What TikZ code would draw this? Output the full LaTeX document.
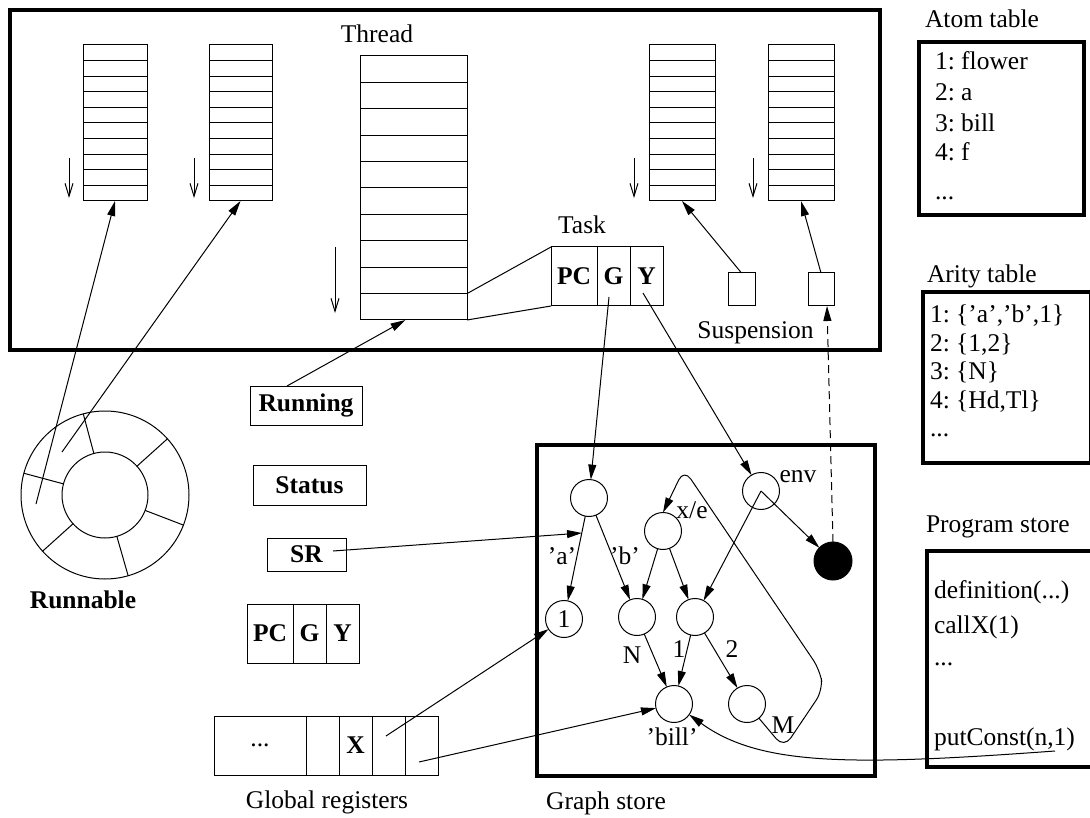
\documentclass[tikz,border=0pt]{standalone}
\usepackage{fontspec}
\setmainfont{Liberation Serif}
\usetikzlibrary{arrows.meta,calc}
\frenchspacing
\begin{document}
\begin{tikzpicture}[x=1pt,y=-1pt,
  every node/.style={font=\fontsize{25.5}{31}\selectfont, inner sep=0pt, outer sep=0pt},
  lbl/.style={anchor=base},
  lblw/.style={anchor=base west},
  ln/.style={line width=1pt},
  frame/.style={draw, line width=4pt},
  stk/.style={draw, line width=1pt},
  cell/.style={draw, line width=1pt, minimum height=59pt, font=\fontsize{25.5}{31}\selectfont\bfseries},
  reg/.style={draw, line width=1pt, font=\fontsize{25.5}{31}\selectfont\bfseries},
  gn/.style={circle, draw, line width=1pt, minimum size=37pt},
  arr/.style={-{Triangle[length=15pt,width=8pt]}, line width=1pt},
  downarr/.style={-{Straight Barb[length=13pt,width=8pt]}, line width=1pt}
]
\useasboundingbox (0,0) rectangle (1090,818);

% ---- Thread area frame
\node[frame, minimum width=870pt, minimum height=340pt] (tframe) at (445,180) {};

% ---- small stacks
\node[stk, minimum width=64pt, minimum height=156pt] (s1) at (115,123) {};
\node[stk, minimum width=63pt, minimum height=156pt] (s2) at (240.5,123) {};
\node[stk, minimum width=66pt, minimum height=156pt] (s3) at (682,123) {};
\node[stk, minimum width=66pt, minimum height=156pt] (s4) at (801,123) {};
\foreach \s in {s1,s2,s3,s4}{
  \foreach \k in {1,...,9}{
    \draw[ln] ($(\s.north west)!\k/10!(\s.south west)$) -- ($(\s.north east)!\k/10!(\s.south east)$);
  }
}
\draw[downarr] (69,158) -- (69,198);
\draw[downarr] (194,158) -- (194,198);
\draw[downarr] (634,158) -- (634,198);
\draw[downarr] (753,158) -- (753,198);

% ---- thread stack
\node[lbl] (threadlbl) at (377,43) {Thread};
\node[stk, minimum width=107pt, minimum height=264pt] (th) at (413.5,188) {};
\foreach \k in {1,...,9}{
  \draw[ln] ($(th.north west)!\k/10!(th.south west)$) -- ($(th.north east)!\k/10!(th.south east)$);
}
\draw[downarr] (335,247) -- (335,313);

% ---- task
\node[lbl] (tasklbl) at (582,234) {Task};
\node[cell, minimum width=46pt] (tPC) at (574,276.5) {PC};
\node[cell, minimum width=33pt] (tG) at (613.5,276.5) {G};
\node[cell, minimum width=33pt] (tY) at (646.5,276.5) {Y};
\coordinate (throw) at ($(th.north east)!0.9!(th.south east)$);
\draw[ln] (throw) -- (tPC.north west);
\draw[ln] (th.south east) -- (tPC.south west);

% ---- suspensions
\node[stk, minimum width=27pt, minimum height=33pt] (su1) at (741.5,289.5) {};
\node[stk, minimum width=26pt, minimum height=33pt] (su2) at (821,289.5) {};
\node[lbl] (suslbl) at (755.5,339) {Suspension};
\draw[arr] (su1.north) -- (s3.south);
\draw[arr] (su2.north) -- (s4.south);

% ---- runnable ring
\node[circle, draw, line width=1pt, minimum size=168pt] (runc) at (105,495) {};
\node[circle, draw, line width=1pt, minimum size=86pt] (runi) at (105,495) {};
\foreach \a in {105,42,-21,-74,222,165}{
  \draw[ln] (runi.\a) -- (runc.\a);
}
\node[lbl, font=\fontsize{25.5}{31}\selectfont\bfseries] (runlbl) at (83,608) {Runnable};
\coordinate (r1) at (36,504);
\coordinate (r2) at (62,452);
\draw[arr] (r1) -- (s1.south);
\draw[arr] (r2) -- (s2.south);

% ---- registers column
\node[reg, minimum width=112pt, minimum height=39pt] (running) at (306,405.5) {Running};
\draw[arr] ([xshift=-19pt]running.north) -- ([xshift=-8pt]th.south);
\node[reg, minimum width=113pt, minimum height=40pt] (status) at (309.5,485) {Status};
\node[reg, minimum width=79pt, minimum height=33pt] (sr) at (306.5,554.5) {SR};
\node[cell, minimum width=46pt] (bPC) at (270,633.5) {PC};
\node[cell, minimum width=33pt] (bG) at (309.5,633.5) {G};
\node[cell, minimum width=33pt] (bY) at (342.5,633.5) {Y};

% ---- global registers
\node[draw, line width=1pt, minimum width=92pt, minimum height=59pt] (g1) at (260,745.5) {...};
\node[draw, line width=1pt, minimum width=33pt, minimum height=59pt] (g2) at (322.5,745.5) {};
\node[cell, minimum width=33pt] (g3) at (355.5,745.5) {X};
\node[draw, line width=1pt, minimum width=33pt, minimum height=59pt] (g4) at (388.5,745.5) {};
\node[draw, line width=1pt, minimum width=33pt, minimum height=59pt] (g5) at (421.5,745.5) {};
\node[lbl] (glbl) at (327,808) {Global registers};

% ---- graph store
\node[frame, minimum width=338pt, minimum height=331pt] (gstore) at (706,610.5) {};
\node[lbl] (gslbl) at (606,809) {Graph store};
\node[gn] (A) at (589,498) {};
\node[gn] (xe) at (663,531) {};
\node[gn] (env) at (761,491) {};
\node[gn] (one) at (564,619) {1};
\node[gn] (N) at (637,617) {};
\node[gn] (C) at (695,617) {};
\node[gn] (bill) at (674,704) {};
\node[gn] (M) at (747,704) {};
\node[gn, fill=black, minimum size=38pt] (blk) at (833,561) {};

\node[lbl] (la) at (562,564) {'a'};
\node[lbl] (lb) at (625,564) {'b'};
\node[lbl] (lxe) at (692,518) {x/e};
\node[lbl] (lenv) at (798,482) {env};
\node[lbl] (lN) at (632,663) {N};
\node[lbl] (l1) at (679,657) {1};
\node[lbl] (l2) at (732,657) {2};
\node[lbl] (lbill) at (672,745) {'bill'};
\node[lbl] (lM) at (783,733) {M};

\draw[arr] (A) -- (one);
\draw[arr] (A) -- (N);
\draw[arr] (xe) -- (N);
\draw[arr] (xe) -- (C);
\draw[arr] (env.center) -- (C);
\draw[arr] (env.center) -- (blk);
\draw[arr] (N) -- (bill);
\draw[arr] (C) -- (bill);
\draw[arr] (C) -- (M);
\draw[arr, rounded corners=12pt] (M.-50) -- (784,748) -- (823,690) -- (820,670) -- (684,469) -- (xe.north);

% ---- pointers into the graph store
\coordinate (gp) at (609,297);
\coordinate (yp) at (643,293);
\draw[arr] (gp) -- (A);
\draw[arr] (yp) -- (env);
\coordinate (srp) at (333,551);
\coordinate (aedge) at (582,533);
\draw[arr] (srp) -- (aedge);
\coordinate (g4p) at (386,736);
\coordinate (g5p) at (419,762);
\draw[arr] (g4p) -- (one);
\draw[arr] (g5p) -- (bill);
\draw[arr, dashed, dash pattern=on 8pt off 5pt] (blk.north) -- ([xshift=6pt]su2.south);

% ---- atom table
\node[lblw] (atomlbl) at (925,28) {Atom table};
\node[frame, minimum width=165pt, minimum height=173pt] (atom) at (1001.5,128.5) {};
\node[lblw] (at1) at (935,70) {1: flower};
\node[lblw] (at2) at (935,101) {2: a};
\node[lblw] (at3) at (935,132) {3: bill};
\node[lblw] (at4) at (935,161) {4: f};
\node[lblw] (at5) at (935,200) {...};

% ---- arity table
\node[lblw] (aritylbl) at (927,283) {Arity table};
\node[frame, minimum width=168pt, minimum height=171pt] (arity) at (1007,377.5) {};
\node[lblw] (ar1) at (930,323) {1: \{'a','b',1\}};
\node[lblw] (ar2) at (930,352) {2: \{1,2\}};
\node[lblw] (ar3) at (930,380) {3: \{N\}};
\node[lblw] (ar4) at (930,408) {4: \{Hd,Tl\}};
\node[lblw] (ar5) at (930,436) {...};

% ---- program store
\node[lblw] (proglbl) at (926,532) {Program store};
\node[frame, minimum width=169pt, minimum height=216pt] (prog) at (1011.5,659) {};
\node[lblw] (p1) at (934,598) {definition(...)};
\node[lblw] (p2) at (934,633) {callX(1)};
\node[lblw] (p3) at (934,665) {...};
\node[lblw] (p4) at (934,745) {putConst(n,1)};
\coordinate (pcp) at (1055,751);
\draw[arr] (pcp) .. controls (850,766) and (760,766) .. (bill.-35);
\end{tikzpicture}
\end{document}
